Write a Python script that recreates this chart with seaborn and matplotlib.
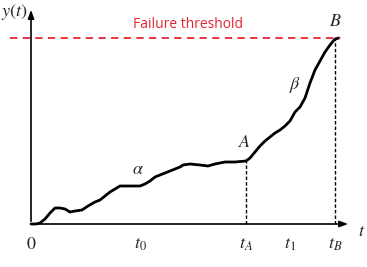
import numpy as np
import pandas as pd
import matplotlib
matplotlib.use("Agg")
import matplotlib.pyplot as plt
import seaborn as sns

# degradation path (time, level)
t_vals = [0, 5, 9, 14, 19, 24, 29, 34, 39, 44, 51, 57, 64, 69, 74, 79, 84, 89, 99, 109, 114, 119,
          124, 129, 139, 149, 152, 159, 169, 177, 184, 194, 204, 215, 219, 224, 229, 234, 239, 244,
          249, 254, 259, 264, 269, 274, 279, 284, 289, 294, 299, 304, 308]
y_vals = [0, 0, 1, 5, 11, 16, 16, 15, 12, 13, 14, 18, 22, 24, 28, 32, 35, 38, 38, 38, 40, 43,
          47, 49, 53, 57, 59, 60, 59, 58, 60, 62, 62, 63, 66, 72, 78, 83, 87, 91, 94, 98,
          103, 112, 117, 126, 141, 154, 163, 172, 179, 185, 186]
threshold = 186
t_A, t_B = 215, 304
tick_pos = [0, 109, 215, 259, 304]
tick_labels = ["$0$", "$t_0$", "$t_A$", "$t_1$", "$t_B$"]

plt.rcParams["mathtext.fontset"] = "stix"
sns.set_style("white")
fig = plt.figure(figsize=(3.67, 2.67), dpi=100)
ax = fig.add_axes([0, 0, 1, 1])
ax.set_xlim(-31, 336)
ax.set_ylim(-43, 224)
ax.axis("off")

df = pd.DataFrame({"t": t_vals, "y": y_vals})
sns.lineplot(data=df, x="t", y="y", ax=ax, color="black", lw=2.0, legend=False)

# axes with arrows
ax.annotate("", xy=(320, 0), xytext=(0, 0),
            arrowprops=dict(arrowstyle="-|>,head_length=0.5,head_width=0.18", color="black", lw=1.2))
ax.annotate("", xy=(0, 217), xytext=(0, 0),
            arrowprops=dict(arrowstyle="-|>,head_length=0.5,head_width=0.18", color="black", lw=1.2))

# threshold
ax.plot([-21, 309], [threshold, threshold], color="#e8242f", lw=1.3, ls=(0, (4, 3)))
ax.text(157, 200, "Failure threshold", color="#e8242f", fontsize=10,
        ha="center", va="center", family="Open Sans")

# verticals
ax.plot([t_A, t_A], [0, 63], color="black", lw=1.0, ls=(0, (2.5, 1.5)))
ax.plot([t_B, t_B], [0, threshold], color="black", lw=1.0, ls=(0, (2.5, 1.5)))

# tick labels
for p, lab in zip(tick_pos, tick_labels):
    ax.text(p, -20, lab, fontsize=13, ha="center", va="center")
ax.text(331, -7, "$t$", fontsize=13, ha="center", va="center")
ax.text(-17, 212, "$y(t)$", fontsize=13, ha="center", va="center")

ax.text(107, 55, r"$\alpha$", fontsize=13, ha="center", va="center")
ax.text(214, 82, r"$A$", fontsize=13, ha="center", va="center")
ax.text(264, 139, r"$\beta$", fontsize=13, ha="center", va="center")
ax.text(304, 203, r"$B$", fontsize=13, ha="center", va="center")

fig.savefig("out.png", dpi=100)
